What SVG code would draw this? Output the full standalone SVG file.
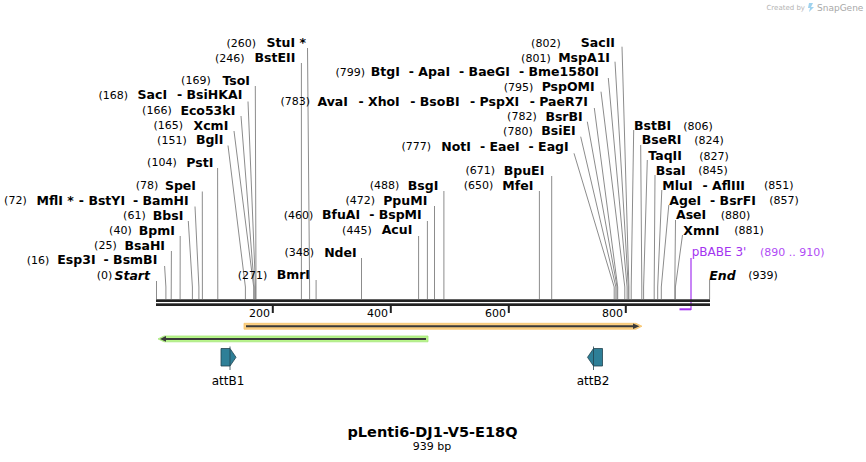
<svg xmlns="http://www.w3.org/2000/svg" width="866" height="462" viewBox="0 0 866 462">
<style>
text{font-family:"DejaVu Sans","Liberation Sans",sans-serif;fill:#000}
.n{font-size:11px}
.b{font-size:12.5px;font-weight:bold}
.bi{font-size:12.5px;font-weight:bold;font-style:italic}
.e{text-anchor:end}
.ld{fill:none;stroke:#8c8c8c;stroke-width:1}
.pu{fill:#a333f0}
.tk{font-size:11px}
</style>
<rect width="866" height="462" fill="#fff"/>
<g id="credit">
<text x="805" y="10" class="e" style="font-size:7px;fill:#b4b4b4">Created by</text>
<path d="M809 3 l4 0 l-2 4 l3 0 l-5 5 l1 -4 l-2 0 z" fill="#9fd2ee"/>
<text x="817" y="11" style="font-size:9px;fill:#a8a8a8">SnapGene</text>
</g>
<g id="connectors">
<polyline class="ld" points="307.5,48 309.6,287 309.6,299"/>
<polyline class="ld" points="301.4,63 301.4,299"/>
<polyline class="ld" points="255.3,86 256,287 256,299"/>
<polyline class="ld" points="248,101.5 255.5,287 255.5,299"/>
<polyline class="ld" points="241,116 254.3,287 254.3,299"/>
<polyline class="ld" points="234,131 253.7,287 253.7,299"/>
<polyline class="ld" points="228,145.5 245.4,287 245.4,299"/>
<polyline class="ld" points="217.6,168 217.8,299"/>
<polyline class="ld" points="202.3,191.5 202.4,299"/>
<polyline class="ld" points="195,206.5 198.9,287 198.9,299"/>
<polyline class="ld" points="188.3,221 192.4,287 192.4,299"/>
<polyline class="ld" points="180.2,236 180.1,299"/>
<polyline class="ld" points="171.4,251 171.2,299"/>
<polyline class="ld" points="164.6,266 165.9,287 165.9,299"/>
<polyline class="ld" points="156.5,281 156.5,299"/>
<polyline class="ld" points="316.1,280 316.1,299"/>
<polyline class="ld" points="361.5,258 361.5,299"/>
<polyline class="ld" points="427.4,221 427.4,299"/>
<polyline class="ld" points="418.6,236 418.6,299"/>
<polyline class="ld" points="434.5,206 434.5,299"/>
<polyline class="ld" points="443.9,191 443.9,299"/>
<polyline class="ld" points="539.4,191 539.4,299"/>
<polyline class="ld" points="551.7,176 551.7,299"/>
<polyline class="ld" points="574,153.3 614.2,287 614.2,299"/>
<polyline class="ld" points="580.7,136.7 615.9,287 615.9,299"/>
<polyline class="ld" points="587.3,121.7 617.1,287 617.1,299"/>
<polyline class="ld" points="594.3,108 617.7,287 617.7,299"/>
<polyline class="ld" points="601,91.7 624.8,287 624.8,299"/>
<polyline class="ld" points="608.3,78 627.1,287 627.1,299"/>
<polyline class="ld" points="615,61.7 628.3,287 628.3,299"/>
<polyline class="ld" points="622,46.7 628.9,287 628.9,299"/>
<polyline class="ld" points="633.7,130 631.2,287 631.2,299"/>
<polyline class="ld" points="640.7,145 641.8,287 641.8,299"/>
<polyline class="ld" points="647.3,160 643.6,287 643.6,299"/>
<polyline class="ld" points="655,175 654.2,287 654.2,299"/>
<polyline class="ld" points="661.8,190 657.7,287 657.7,299"/>
<polyline class="ld" points="668.8,205 661.3,287 661.3,299"/>
<polyline class="ld" points="675.5,220 674.8,287 674.8,299"/>
<polyline class="ld" points="682.5,235 675.4,287 675.4,299"/>
<polyline class="ld" points="709.6,280 709.6,299"/>
<line x1="691" y1="258" x2="691" y2="310" stroke="#a333f0" stroke-width="1.2"/>
</g>
<g id="backbone">
<rect x="156" y="299.3" width="554" height="2.7" fill="#222"/>
<rect x="156" y="303.3" width="554" height="2.7" fill="#222"/>
<rect x="679.5" y="308.3" width="11.5" height="2" class="pu"/>
<rect x="271.8" y="305.5" width="2" height="7.5" fill="#222"/>
<rect x="389.8" y="305.5" width="2" height="7.5" fill="#222"/>
<rect x="507.8" y="305.5" width="2" height="7.5" fill="#222"/>
<rect x="624.8" y="305.5" width="2" height="7.5" fill="#222"/>
<text class="tk e" x="270" y="317">200</text>
<text class="tk e" x="388" y="317">400</text>
<text class="tk e" x="506" y="317">600</text>
<text class="tk e" x="623" y="317">800</text>
</g>
<g id="s260"><text class="n e" x="256" y="46.5">(260)</text><text class="b e" x="306" y="46.8">StuI *</text></g>
<g id="s246"><text class="n e" x="244.5" y="61.5">(246)</text><text class="b e" x="295.3" y="61.8">BstEII</text></g>
<g id="s169"><text class="n e" x="210.7" y="84.2">(169)</text><text class="b e" x="250" y="84.5">TsoI</text></g>
<g id="s168"><text class="n e" x="128" y="98.7">(168)</text><text class="b e" x="242.3" y="99">SacI<tspan dx="10">- BsiHKAI</tspan></text></g>
<g id="s166"><text class="n e" x="171.7" y="114.2">(166)</text><text class="b e" x="235.3" y="114.5">Eco53kI</text></g>
<g id="s165"><text class="n e" x="183" y="129.2">(165)</text><text class="b e" x="228.3" y="129.5">XcmI</text></g>
<g id="s151"><text class="n e" x="186.7" y="143.7">(151)</text><text class="b e" x="223.3" y="144">BglI</text></g>
<g id="s104"><text class="n e" x="176.7" y="166.2">(104)</text><text class="b e" x="213.3" y="166.5">PstI</text></g>
<g id="s78"><text class="n e" x="158.3" y="189.2">(78)</text><text class="b e" x="196" y="189.5">SpeI</text></g>
<g id="s72"><text class="n e" x="26.7" y="204.2">(72)</text><text class="b e" x="188.7" y="204.5">MflI *<tspan dx="5">- BstYI</tspan><tspan dx="8">- BamHI</tspan></text></g>
<g id="s61"><text class="n e" x="145.7" y="219.2">(61)</text><text class="b e" x="183.3" y="219.5">BbsI</text></g>
<g id="s40"><text class="n e" x="131.7" y="234.2">(40)</text><text class="b e" x="175" y="234.5">BpmI</text></g>
<g id="s25"><text class="n e" x="116.7" y="249.2">(25)</text><text class="b e" x="165" y="249.5">BsaHI</text></g>
<g id="s16"><text class="n e" x="49.3" y="263.7">(16)</text><text class="b e" x="157.3" y="264">Esp3I<tspan dx="8">- BsmBI</tspan></text></g>
<g id="s0"><text class="n e" x="112.3" y="279.2">(0)</text><text class="bi e" x="150" y="279.5">Start</text></g>
<g id="s271"><text class="n e" x="267.3" y="278.7">(271)</text><text class="b e" x="310" y="279">BmrI</text></g>
<g id="s348"><text class="n e" x="314" y="256.2">(348)</text><text class="b e" x="356.7" y="256.5">NdeI</text></g>
<g id="s460"><text class="n e" x="313.3" y="218.7">(460)</text><text class="b e" x="421.7" y="219">BfuAI<tspan dx="9">- BspMI</tspan></text></g>
<g id="s445"><text class="n e" x="371.7" y="233.5">(445)</text><text class="b e" x="412.3" y="233.8">AcuI</text></g>
<g id="s472"><text class="n e" x="375" y="204.2">(472)</text><text class="b e" x="427.3" y="204.5">PpuMI</text></g>
<g id="s488"><text class="n e" x="399.3" y="189.2">(488)</text><text class="b e" x="438.3" y="189.5">BsgI</text></g>
<g id="s650"><text class="n e" x="493.3" y="189.2">(650)</text><text class="b e" x="533.3" y="189.5">MfeI</text></g>
<g id="s671"><text class="n e" x="495" y="174.2">(671)</text><text class="b e" x="544.3" y="174.5">BpuEI</text></g>
<g id="s777"><text class="n e" x="431" y="150.2">(777)</text><text class="b e" x="568.7" y="150.5">NotI<tspan dx="9">- EaeI</tspan><tspan dx="9">- EagI</tspan></text></g>
<g id="s780"><text class="n e" x="532.7" y="134.9">(780)</text><text class="b e" x="575.7" y="135.2">BsiEI</text></g>
<g id="s782"><text class="n e" x="536.7" y="120.2">(782)</text><text class="b e" x="582.7" y="120.5">BsrBI</text></g>
<g id="s783"><text class="n e" x="310" y="105.2">(783)</text><text class="b e" x="588" y="105.5">AvaI<tspan dx="10.5">- XhoI</tspan><tspan dx="10.5">- BsoBI</tspan><tspan dx="10.5">- PspXI</tspan><tspan dx="10.5">- PaeR7I</tspan></text></g>
<g id="s795"><text class="n e" x="533.3" y="90.9">(795)</text><text class="b e" x="594.7" y="91.2">PspOMI</text></g>
<g id="s799"><text class="n e" x="365" y="75.9">(799)</text><text class="b e" x="599" y="76.2">BtgI<tspan dx="9">- ApaI</tspan><tspan dx="9">- BaeGI</tspan><tspan dx="9">- Bme1580I</tspan></text></g>
<g id="s801"><text class="n e" x="550.7" y="61.5">(801)</text><text class="b e" x="610" y="61.8">MspA1I</text></g>
<g id="s802"><text class="n e" x="560.7" y="46.5">(802)</text><text class="b e" x="615" y="46.8">SacII</text></g>
<g id="s806"><text class="b" x="634" y="130.2">BstBI</text><text class="n" x="683.3" y="129.9">(806)</text></g>
<g id="s824"><text class="b" x="641.7" y="144">BseRI</text><text class="n" x="694.3" y="143.7">(824)</text></g>
<g id="s827"><text class="b" x="648.3" y="159.8">TaqII</text><text class="n" x="699.3" y="159.5">(827)</text></g>
<g id="s845"><text class="b" x="655.7" y="174.5">BsaI</text><text class="n" x="698.3" y="174.2">(845)</text></g>
<g id="s851"><text class="b" x="662.3" y="189.5">MluI<tspan dx="10">- AflIII</tspan></text><text class="n" x="764" y="189.2">(851)</text></g>
<g id="s857"><text class="b" x="669.3" y="204.5">AgeI<tspan dx="9">- BsrFI</tspan></text><text class="n" x="769.3" y="204.2">(857)</text></g>
<g id="s880"><text class="b" x="676" y="219">AseI</text><text class="n" x="720.7" y="218.7">(880)</text></g>
<g id="s881"><text class="b" x="683.3" y="234.5">XmnI</text><text class="n" x="734.3" y="234.2">(881)</text></g>
<g id="pBABE"><text x="691.7" y="256" class="pu" style="font-size:12px">pBABE 3'</text><text x="760" y="256" class="pu" style="font-size:11px;fill:#b14cf5">(890 .. 910)</text></g>
<g id="s939"><text class="bi" x="709.3" y="279.5">End</text><text class="n" x="748.3" y="279.2">(939)</text></g>
<g id="orf-orange">
<path d="M244,323.3 H636 L642,326.2 L636,329.2 H244 Z" fill="#fcd083" stroke="#f6c36c" stroke-width="0.8"/>
<line x1="246" y1="326.2" x2="634" y2="326.2" stroke="#3a3a3a" stroke-width="2"/>
<path d="M633,323.4 L639.5,326.2 L633,329 Z" fill="#3a3a3a"/>
</g>
<g id="orf-green">
<path d="M428,336 H164 L158,338.9 L164,341.8 H428 Z" fill="#b8f58a" stroke="#a6e67a" stroke-width="0.8"/>
<line x1="426" y1="338.9" x2="164" y2="338.9" stroke="#3a3a3a" stroke-width="2"/>
<path d="M166,336.1 L160,338.9 L166,341.7 Z" fill="#3a3a3a"/>
</g>
<g id="attB1">
<path d="M221,348.5 H230 L236,357.3 L230,366 H221 Z" fill="#2e7f97" stroke="#22434e" stroke-width="0.8"/>
<line x1="230" y1="346.5" x2="230" y2="370" stroke="#22434e" stroke-width="0.8"/>
<text x="228" y="385" text-anchor="middle" style="font-size:12px">attB1</text>
</g>
<g id="attB2">
<path d="M602.5,348.5 H593.5 L587.5,357.3 L593.5,366 H602.5 Z" fill="#2e7f97" stroke="#22434e" stroke-width="0.8"/>
<line x1="593.5" y1="346.5" x2="593.5" y2="370" stroke="#22434e" stroke-width="0.8"/>
<text x="593" y="385" text-anchor="middle" style="font-size:12px">attB2</text>
</g>
<g id="title">
<text x="432.5" y="436.5" text-anchor="middle" style="font-size:14.5px;font-weight:bold">pLenti6-DJ1-V5-E18Q</text>
<text x="432" y="450" text-anchor="middle" style="font-size:11px">939 bp</text>
</g>
</svg>
